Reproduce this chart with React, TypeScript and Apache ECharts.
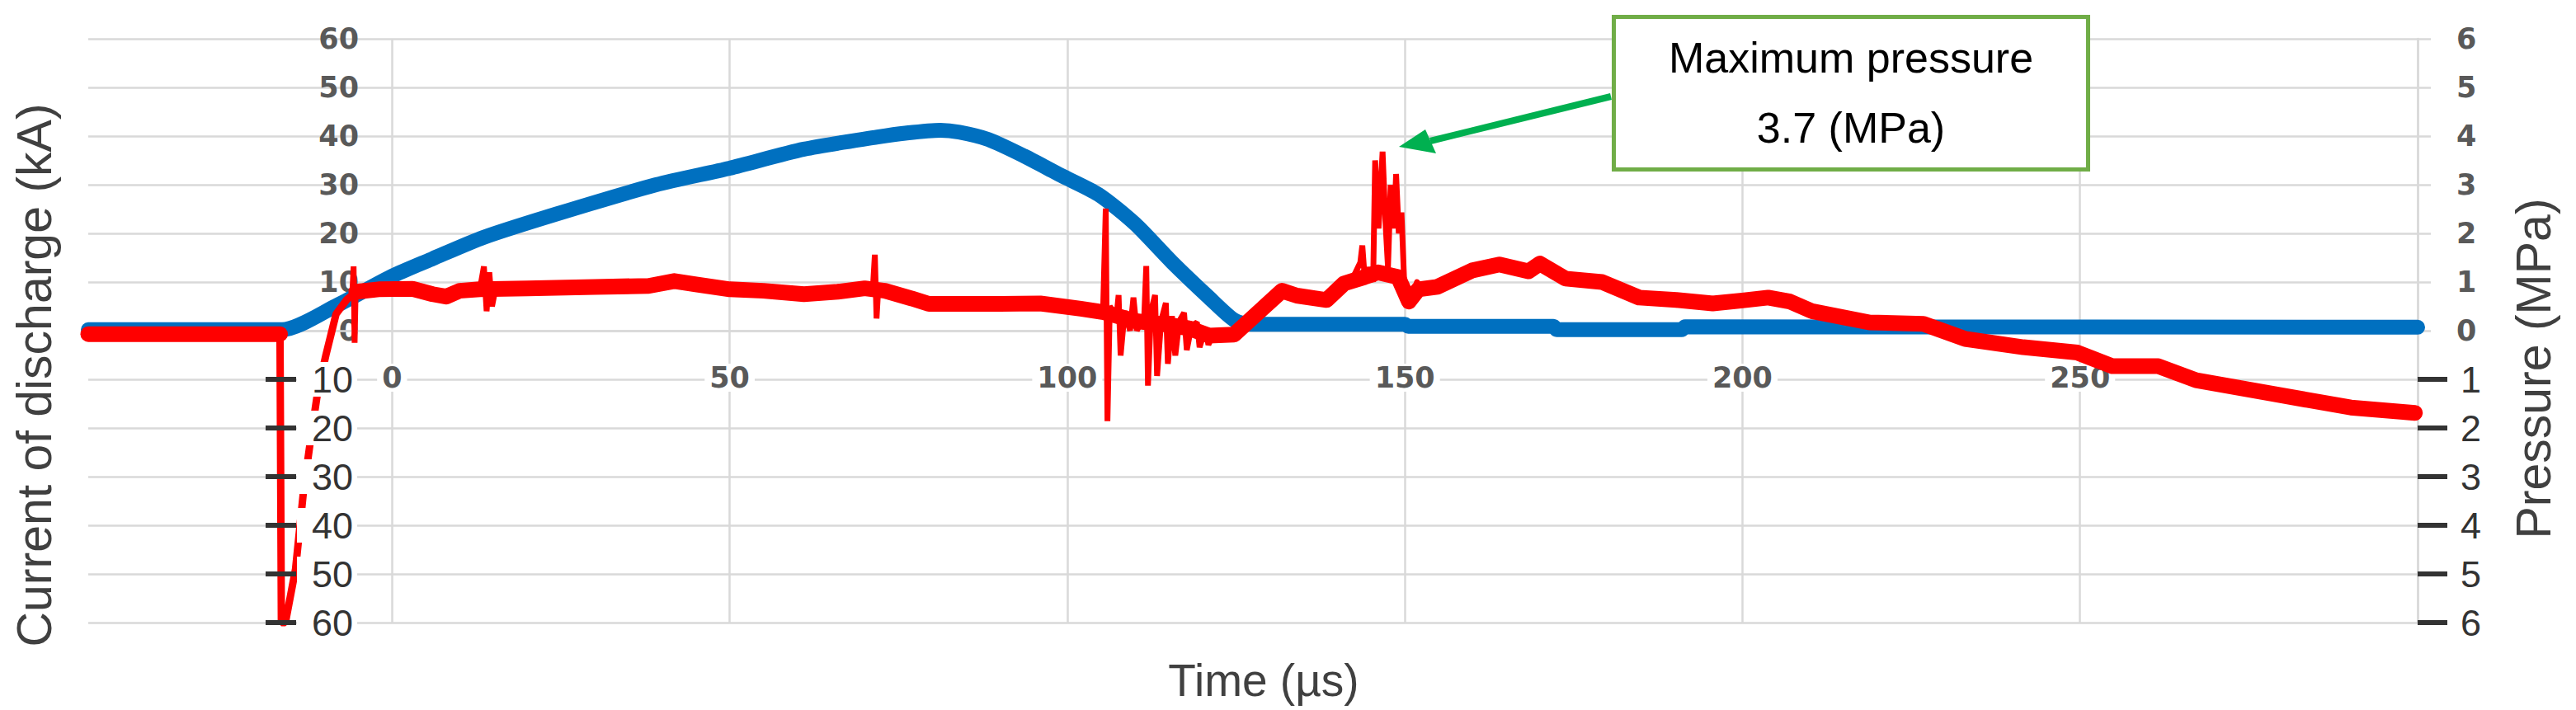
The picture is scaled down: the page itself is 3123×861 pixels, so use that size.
import React, { useEffect, useRef } from 'react';
import * as echarts from 'echarts';

// ---------- data ----------
const timeTickLabels = [0, 50, 100, 150, 200, 250];
const currentNegTicks = [-10, -20, -30, -40, -50, -60];
const pressureNegTicks = [-1, -2, -3, -4, -5, -6];

// current of discharge (kA) vs time (µs)
const currentData: [number, number][] = [
  [-45, 0.2], [-16.3, 0.2], [-8.3, 5.1], [0, 11.2], [6, 14.8], [13.6, 19.2], [24.4, 24], [39.1, 30],
  [50, 33.4], [61, 37.3], [71.9, 39.8], [76, 40.6], [81.2, 41.2], [84, 40.8], [88.3, 39.3], [93.6, 35.9],
  [99.1, 31.9], [104.6, 28], [110, 22], [115.5, 14.1], [121, 6.8], [124.7, 2.2], [127, 1.3], [150, 1.3],
  [150.5, 0.9], [172, 0.9], [172.5, 0.2], [191, 0.2], [191.5, 0.8], [300, 0.7],
];

// pressure (MPa): baseline band before discharge
const pressureBefore: [number, number][] = [[-45, -0.07], [-16.6, -0.07]];

// pressure (MPa): main trend band
const pressureMain: [number, number][] = [
  [-5.3, 0.8], [-2, 0.85], [3, 0.86], [6, 0.75], [8, 0.7], [10, 0.82], [13, 0.85], [20, 0.87], [30, 0.9],
  [38, 0.92], [41.8, 1.02], [45, 0.95], [50, 0.85], [55, 0.82], [61, 0.75], [66, 0.8], [70, 0.87], [73, 0.82],
  [77, 0.66], [79.5, 0.55], [90, 0.55], [96, 0.56], [102, 0.45], [105.4, 0.38], [110, 0.2], [115, 0.12],
  [118, 0.05], [121, -0.1], [124.7, -0.08], [128, 0.34], [131.8, 0.82], [134, 0.72], [138.4, 0.63], [141, 0.97],
  [144, 1.1], [146, 1.2], [149, 1.1], [150.6, 0.6], [152, 0.85], [154.8, 0.9], [160, 1.24], [164, 1.36],
  [168.3, 1.22], [170, 1.38], [173.8, 1.07], [179.2, 1.0], [184.7, 0.68], [190.2, 0.63], [195.6, 0.56],
  [200, 0.62], [203.8, 0.68], [207, 0.6], [210.3, 0.4], [218.8, 0.17], [226.8, 0.14], [233, -0.17],
  [241.6, -0.34], [249.6, -0.45], [254.8, -0.73], [261.6, -0.73], [267.2, -1.02], [278.6, -1.3],
  [290.1, -1.58], [299.6, -1.69],
];

// pressure (MPa): drop and recovery at discharge
const pressureDrop: [number, number][] = [
  [-16.6, -0.07], [-16.4, -6.0], [-15.8, -6.0], [-14.3, -4.9], [-13.1, -3.27], [-12.2, -2.37],
  [-11.0, -1.24], [-9.8, -0.5], [-8.3, 0.34], [-6.7, 0.64], [-5.3, 0.8],
];

// pressure (MPa): sharp spikes
const spikeA: [number, number][] = [[-5.9, 0.75], [-5.7, 1.32], [-5.55, -0.25], [-5.4, 0.8]];
const spikeB: [number, number][] = [[13, 0.85], [13.6, 1.32], [14, 0.4], [14.4, 1.2], [14.8, 0.5], [15.3, 0.85]];
const spikeC: [number, number][] = [[71.2, 0.85], [71.5, 1.56], [71.75, 0.25], [72, 0.85]];
const spikeD: [number, number][] = [
  [105.3, 0.4], [105.7, 2.51], [105.95, -1.86], [106.3, 0.5], [107.3, 0.3], [107.6, 0.73], [107.9, -0.51],
  [108.5, 0.4], [109.3, 0.0], [109.8, 0.68], [110.3, 0.0], [111.4, 0.3], [111.7, 1.33], [111.95, -1.13],
  [112.4, 0.4], [113.0, 0.73], [113.3, -0.93], [113.9, 0.2], [114.6, 0.57], [114.9, -0.68], [115.5, 0.3],
  [116, -0.51], [116.6, 0.2], [117.3, 0.37], [117.7, -0.4], [118.4, 0.1], [119.2, 0.17], [119.6, -0.34],
  [120.5, 0.06], [120.9, -0.29], [121.5, -0.1],
];
const spikeE: [number, number][] = [
  [142, 1.0], [143.4, 1.4], [143.7, 1.75], [144.1, 1.0], [144.8, 1.3], [145.3, 1.0], [145.6, 3.5],
  [146.1, 2.1], [146.7, 3.68], [147.1, 2.3], [147.5, 1.3], [147.9, 3.0], [148.4, 2.1], [148.7, 3.22],
  [149.1, 2.0], [149.5, 2.43], [149.9, 1.0], [150.6, 0.56], [151.8, 1.0],
];
const pressureSpikes = [spikeA, spikeB, spikeC, spikeD, spikeE];

// ---------- styles ----------
const GRID = '#D9D9D9';
const BLUE = '#0070C0';
const RED = '#FF0000';
const LABEL_GRAY = '#595959';
const DARK = '#333333';

export default function App() {
  const ref = useRef<HTMLDivElement>(null);

  useEffect(() => {
    if (!ref.current) return;
    const chart = echarts.init(ref.current, null, { renderer: 'svg' });

    const redLine = (data: [number, number][], width: number, join: string, clip = true) => ({
      type: 'line',
      name: 'Pressure',
      yAxisIndex: 1,
      data,
      showSymbol: false,
      symbol: 'none',
      silent: true,
      clip,
      z: 3,
      lineStyle: { color: RED, width, join, cap: 'round' },
    });

    const option: any = {
      animation: false,
      textStyle: { fontFamily: 'Liberation Sans' },
      grid: { left: 107, right: 192, top: 47, bottom: 106, containLabel: false },
      xAxis: {
        type: 'value',
        min: -45,
        max: 300,
        splitNumber: 7,
        minInterval: 50,
        maxInterval: 50,
        position: 'bottom',
        offset: -354,
        z: 1,
        axisLine: { show: true, onZero: false, lineStyle: { color: GRID, width: 2.5 } },
        axisTick: { show: false },
        axisLabel: {
          showMinLabel: false,
          showMaxLabel: false,
          formatter: (v: number) => (timeTickLabels.includes(v) ? String(v) : ''),
          fontFamily: 'DejaVu Sans',
          fontWeight: 'bold',
          fontSize: 35,
          lineHeight: 34,
          color: LABEL_GRAY,
          margin: 40,
          backgroundColor: '#fff',
          padding: [0, 6],
        },
        splitLine: { show: true, showMinLine: false, lineStyle: { color: GRID, width: 2.5 } },
      },
      yAxis: [
        {
          type: 'value',
          min: -60,
          max: 60,
          interval: 10,
          position: 'left',
          offset: -328,
          axisLine: { show: false, onZero: false },
          axisTick: { show: false },
          axisLabel: {
            formatter: (v: number) => (v >= 0 ? String(v) : ''),
            margin: 0,
            fontFamily: 'DejaVu Sans',
            fontWeight: 'bold',
            fontSize: 35,
            color: LABEL_GRAY,
          },
          splitLine: { show: true, lineStyle: { color: GRID, width: 2.5 } },
        },
        {
          type: 'value',
          min: -6,
          max: 6,
          interval: 1,
          position: 'right',
          axisLine: { show: true, onZero: false, lineStyle: { color: GRID, width: 2.5 } },
          axisTick: { show: true, length: 16, lineStyle: { color: GRID, width: 2.5 } },
          splitLine: { show: false },
          axisLabel: {
            margin: 47,
            formatter: (v: number) => (v >= 0 ? `{p|${v}}` : `{n|${-v}}`),
            rich: {
              p: { fontFamily: 'DejaVu Sans', fontWeight: 'bold', fontSize: 35, color: LABEL_GRAY },
              n: { fontFamily: 'Liberation Sans', fontSize: 45, color: DARK, padding: [0, 0, 0, 5] },
            },
          },
        },
        {
          type: 'value',
          min: -60,
          max: 60,
          interval: 10,
          position: 'left',
          offset: -252,
          z: 10,
          axisLine: { show: false, onZero: false },
          axisTick: {
            show: true,
            customValues: currentNegTicks,
            length: 37,
            lineStyle: { color: DARK, width: 6 },
          },
          axisLabel: {
            customValues: currentNegTicks,
            inside: true,
            margin: 1,
            formatter: (v: number) => (v < 0 ? String(-v) : ''),
            fontFamily: 'Liberation Sans',
            fontSize: 45,
            lineHeight: 40,
            color: DARK,
            backgroundColor: '#fff',
            padding: [1, 5, 1, 18],
          },
          splitLine: { show: false },
        },
        {
          type: 'value',
          min: -6,
          max: 6,
          interval: 1,
          position: 'right',
          z: 10,
          axisLine: { show: false, onZero: false },
          axisTick: {
            show: true,
            customValues: pressureNegTicks,
            length: 36,
            lineStyle: { color: DARK, width: 6 },
          },
          axisLabel: { show: false },
          splitLine: { show: false },
        },
      ],
      series: [
        {
          type: 'line',
          name: 'Current',
          yAxisIndex: 0,
          data: currentData,
          showSymbol: false,
          symbol: 'none',
          silent: true,
          smooth: 0.25,
          z: 2,
          lineStyle: { color: BLUE, width: 18, join: 'round', cap: 'round' },
        },
        redLine(pressureBefore, 19, 'round'),
        redLine(pressureMain, 19, 'round'),
        redLine(pressureDrop, 9, 'bevel', false),
        ...pressureSpikes.map((s) => redLine(s, 7, 'bevel')),
      ],
      graphic: [
        {
          type: 'text',
          x: 42,
          y: 455,
          rotation: Math.PI / 2,
          z: 50,
          style: {
            text: 'Current of discharge (kA)',
            fontFamily: 'Liberation Sans',
            fontSize: 59,
            fill: '#404040',
            align: 'center',
            verticalAlign: 'middle',
          },
        },
        {
          type: 'text',
          x: 3072,
          y: 447,
          rotation: Math.PI / 2,
          z: 50,
          style: {
            text: 'Pressure (MPa)',
            fontFamily: 'Liberation Sans',
            fontSize: 59,
            fill: '#404040',
            align: 'center',
            verticalAlign: 'middle',
          },
        },
        {
          type: 'text',
          x: 1532,
          y: 825,
          z: 50,
          style: {
            text: 'Time (µs)',
            fontFamily: 'Liberation Sans',
            fontSize: 55,
            fill: '#404040',
            align: 'center',
            verticalAlign: 'middle',
          },
        },
        {
          type: 'line',
          z: 60,
          shape: { x1: 1953, y1: 117, x2: 1734, y2: 171 },
          style: { stroke: '#00B050', lineWidth: 8 },
        },
        {
          type: 'polygon',
          z: 60,
          shape: { points: [[1696, 178], [1728, 157], [1741, 186]] },
          style: { fill: '#00B050' },
        },
        {
          type: 'rect',
          z: 61,
          shape: { x: 1956.5, y: 20.5, width: 575, height: 185 },
          style: { fill: '#fff', stroke: '#70AD47', lineWidth: 5 },
        },
        {
          type: 'text',
          x: 2244,
          y: 70,
          z: 62,
          style: {
            text: 'Maximum pressure',
            fontFamily: 'Liberation Sans',
            fontSize: 52,
            fill: '#000',
            align: 'center',
            verticalAlign: 'middle',
          },
        },
        {
          type: 'text',
          x: 2244,
          y: 155,
          z: 62,
          style: {
            text: '3.7 (MPa)',
            fontFamily: 'Liberation Sans',
            fontSize: 52,
            fill: '#000',
            align: 'center',
            verticalAlign: 'middle',
          },
        },
      ],
    };

    chart.setOption(option);
    return () => chart.dispose();
  }, []);

  return (
    <div
      ref={ref}
      style={{ position: 'fixed', left: 0, top: 0, width: 3123, height: 861, background: '#fff' }}
    />
  );
}
